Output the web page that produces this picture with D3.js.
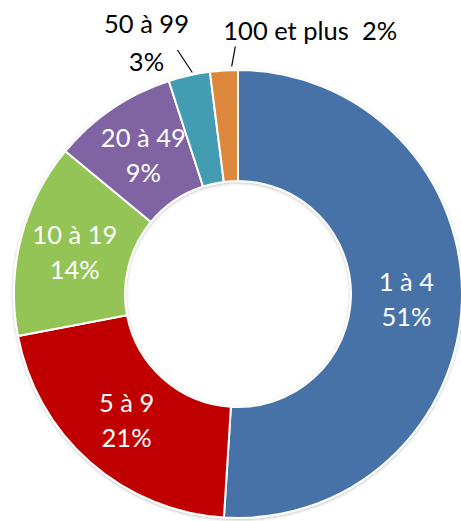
<!DOCTYPE html>
<html>
<head>
<meta charset="utf-8">
<script src="https://cdn.jsdelivr.net/npm/d3@7"></script>
<style>
  body { margin: 0; background: #fff; }
  text { font-family: Lato, "Open Sans", sans-serif; }
</style>
</head>
<body>
<div class="canvas"></div>
<script>
// donut chart - taille des entreprises
var categories = ["1 à 4", "5 à 9", "10 à 19", "20 à 49", "50 à 99", "100 et plus"];
var values = [51, 21, 14, 9, 3, 2];
var colors = ["#4672A8", "#C00000", "#93C455", "#8064A2", "#439DB3", "#DD873D"];

var svgWidth = 461, svgHeight = 521;
var cx = 238, cy = 294, outerR = 224, innerR = 113;
var fontSize = 25.5;

const svg = d3.select(".canvas").append("svg")
     .attr("width", svgWidth)
     .attr("height", svgHeight);

var defs = svg.append("defs");
var f = defs.append("filter").attr("id", "shadow")
     .attr("x", "-10%").attr("y", "-10%").attr("width", "120%").attr("height", "120%");
f.append("feDropShadow").attr("dx", 0).attr("dy", 1).attr("stdDeviation", 1.5)
     .attr("flood-color", "#000").attr("flood-opacity", 0.25);

var data = categories.map(function(c, i) { return {name: c, value: values[i], color: colors[i]}; });

var pie = d3.pie().sort(null).value(function(d) { return d.value; });
var arc = d3.arc().innerRadius(innerR).outerRadius(outerR);
var outerArc = d3.arc().innerRadius(outerR + 4).outerRadius(outerR + 4);
var leaderArc = d3.arc().innerRadius(outerR + 26).outerRadius(outerR + 26);

var arcs = pie(data);
var total = d3.sum(values);

const g = svg.append("g").attr("transform", "translate(" + cx + "," + cy + ")");

g.append("g").attr("filter", "url(#shadow)")
     .selectAll("path")
     .data(arcs)
     .enter().append("path")
     .attr("d", arc)
     .attr("fill", function(d) { return d.data.color; })
     .attr("stroke", "#fff")
     .attr("stroke-width", 2);

// labels inside the big slices
var inside = arcs.filter(function(d) { return d.data.value / total >= 0.05; });
var lbl = g.selectAll("text.inside")
     .data(inside)
     .enter().append("text")
     .attr("class", "inside")
     .attr("text-anchor", "middle")
     .attr("fill", "#fff")
     .attr("font-size", fontSize)
     .attr("transform", function(d) { return "translate(" + arc.centroid(d) + ")"; });
lbl.append("tspan").attr("x", 0).attr("y", -8).text(function(d) { return d.data.name; });
lbl.append("tspan").attr("x", 0).attr("y", 27).text(function(d) { return Math.round(d.data.value / total * 100) + "%"; });

// small slices: labels outside with leader lines
var outside = arcs.filter(function(d) { return d.data.value / total < 0.05; });
outside.forEach(function(d) {
     var p0 = outerArc.centroid(d);
     var p1 = leaderArc.centroid(d);
     if (d.index == 5) { p0 = [p0[0] + 8, p0[1]]; p1 = [p1[0] + 13, p1[1] + 2]; }
     if (d.index == 4) { p0 = [p0[0] + 4, p0[1] + 1]; p1 = [p1[0] - 6, p1[1]]; }
     g.append("line")
          .attr("x1", p0[0]).attr("y1", p0[1])
          .attr("x2", p1[0]).attr("y2", p1[1])
          .attr("stroke", "#000").attr("stroke-width", 1.2);
     var pct = Math.round(d.data.value / total * 100) + "%";
     if (d.index == 4) {
          var t = g.append("text")
               .attr("text-anchor", "middle")
               .attr("font-size", fontSize)
               .attr("fill", "#000");
          t.append("tspan").attr("x", p1[0] - 31).attr("y", p1[1] - 17).text(d.data.name);
          t.append("tspan").attr("x", p1[0] - 31).attr("y", p1[1] + 21).text(pct);
     } else {
          g.append("text")
               .attr("x", p1[0] - 12).attr("y", p1[1] - 7)
               .attr("font-size", fontSize)
               .attr("fill", "#000")
               .style("white-space", "pre")
               .text(d.data.name + "  " + pct);
     }
});
</script>
</body>
</html>
